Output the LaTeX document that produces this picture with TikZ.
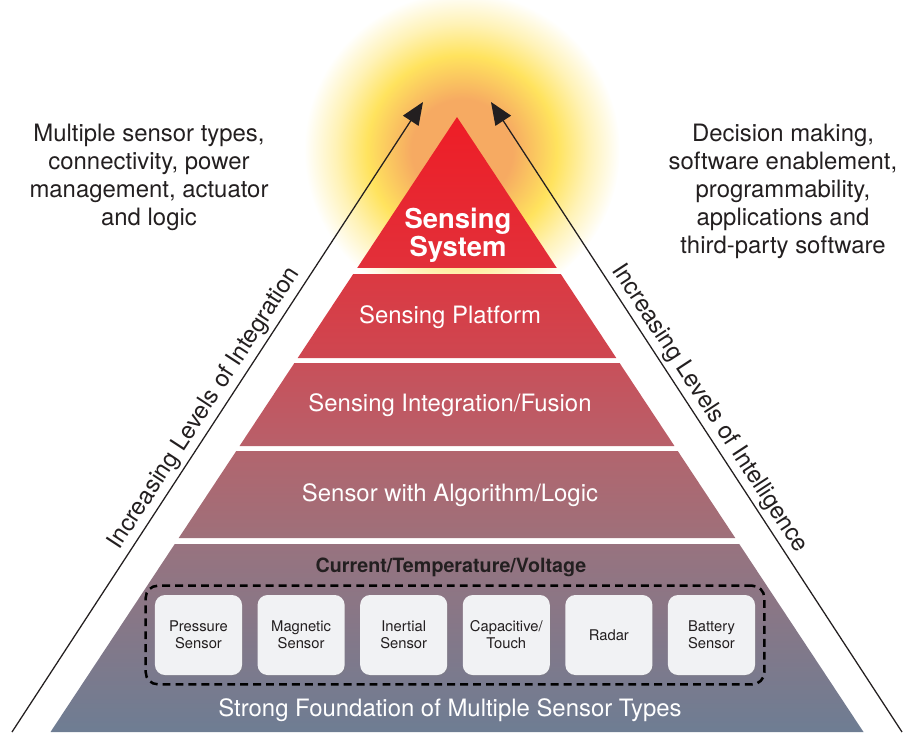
\documentclass[tikz,border=0pt]{standalone}
\usepackage{fontspec}
\setmainfont{TeX Gyre Heros}
\usetikzlibrary{calc,arrows.meta,fit,shadows}
\definecolor{ink}{HTML}{231F20}
\definecolor{glowcore}{HTML}{F6AA62}
\definecolor{glowring}{HTML}{FFE35E}
\definecolor{t1top}{HTML}{EE1D26}
\definecolor{t1bot}{HTML}{E2303A}
\definecolor{t2top}{HTML}{DB3942}
\definecolor{t2bot}{HTML}{CE4751}
\definecolor{t3top}{HTML}{C8505A}
\definecolor{t3bot}{HTML}{B8606A}
\definecolor{t4top}{HTML}{B2656E}
\definecolor{t4bot}{HTML}{9E707A}
\definecolor{t5top}{HTML}{98737F}
\definecolor{t5bot}{HTML}{6E7D93}
\definecolor{boxfill}{HTML}{F1F2F4}
\pgfdeclareradialshading{glow}{\pgfpoint{0bp}{0bp}}{color(0bp)=(glowcore);color(8bp)=(glowcore);color(15bp)=(glowring);color(20bp)=(glowring!45!white);color(25bp)=(white);color(50bp)=(white)}
\tikzset{
  tier label/.style={text=white,font=\fontsize{17}{20}\selectfont},
  tier title/.style={text=white,align=center,font=\fontsize{19.5}{20}\selectfont\bfseries},
  side text/.style={text=ink,align=center,font=\fontsize{17}{19.9}\selectfont},
  level arrow/.style={draw=ink,line width=0.9pt,-{Triangle[length=5.6mm,width=4.6mm]}},
  level label/.style={sloped,above,text=ink,inner sep=2.5pt,font=\fontsize{17}{20}\selectfont},
  sensor box/.style={fill=boxfill,rounded corners=2.5mm,align=center,text=ink,
    minimum width=2.175cm,minimum height=2cm,inner sep=0pt,
    font=\fontsize{10.5}{12}\selectfont,
    drop shadow={opacity=0.25,shadow xshift=0.6pt,shadow yshift=-0.8pt}},
  dash frame/.style={draw=black,line width=1.8pt,dash pattern=on 5.6pt off 3.6pt,
    rounded corners=3mm,inner sep=6.4pt}
}
\def\apex{457,117}
\def\baseL{50.5,732}
\def\baseR{863.5,732}

\begin{document}
\begin{tikzpicture}[x=0.025cm,y=-0.025cm]
\useasboundingbox (0,0) rectangle (908,732);
% 座標設定
\coordinate (A) at (\apex);
\coordinate (BL) at (\baseL);
\coordinate (BR) at (\baseR);
% 光の描画
\shade[shading=glow] (462,150) circle [radius=3.95cm];
% ピラミッドの描画
\foreach \a/\b/\ca/\cb in {0/0.2455/t1top/t1bot,0.2553/0.3919/t2top/t2bot,0.4/0.535/t3top/t3bot,0.5431/0.6846/t4top/t4bot,0.6943/1/t5top/t5bot}
  \shade[top color=\ca,bottom color=\cb] ($(A)!\a!(BL)$) -- ($(A)!\b!(BL)$) -- ($(A)!\b!(BR)$) -- ($(A)!\a!(BR)$) -- cycle;
% 段のラベル
\node[tier title] (system) at (458,235) {Sensing\\System};
\node[tier label] (platform) at (450,317) {Sensing Platform};
\node[tier label] (fusion) at (450,405) {Sensing Integration/Fusion};
\node[tier label] (algo) at (450,495) {Sensor with Algorithm/Logic};
\node[text=ink,font=\fontsize{14}{16}\selectfont\bfseries] (ctv) at (451,567) {Current/Temperature/Voltage};
% センサーの箱
\foreach \i/\nm/\txt in {0/pres/{Pressure\\Sensor},1/magn/{Magnetic\\Sensor},2/iner/{Inertial\\Sensor},3/capa/{Capacitive/\\Touch},4/radar/{Radar},5/batt/{Battery\\Sensor}}
  \node[sensor box] (\nm) at (198.5+102.6*\i,635) {\txt};
\node[dash frame,fit=(pres)(batt)] (group) {};
\node[tier label] (found) at (450,710) {Strong Foundation of Multiple Sensor Types};
% 矢印
\coordinate (intS) at (12,732);
\coordinate (intE) at (423,102);
\coordinate (intlS) at (902,732);
\coordinate (intlE) at (491,102);
\draw[level arrow] (intS) -- node[level label,pos=0.5] (intLbl) {Increasing Levels of Integration} (intE);
\draw[level arrow] (intlS) -- node[level label,pos=0.5] (intlLbl) {Increasing Levels of Intelligence} (intlE);
% 説明文
\node[side text] (leftTxt) at (149,177) {Multiple sensor types,\\connectivity, power\\management, actuator\\and logic};
\node[side text] (rightTxt) at (783,191) {Decision making,\\software enablement,\\programmability,\\applications and\\third-party software};
\end{tikzpicture}
\end{document}
